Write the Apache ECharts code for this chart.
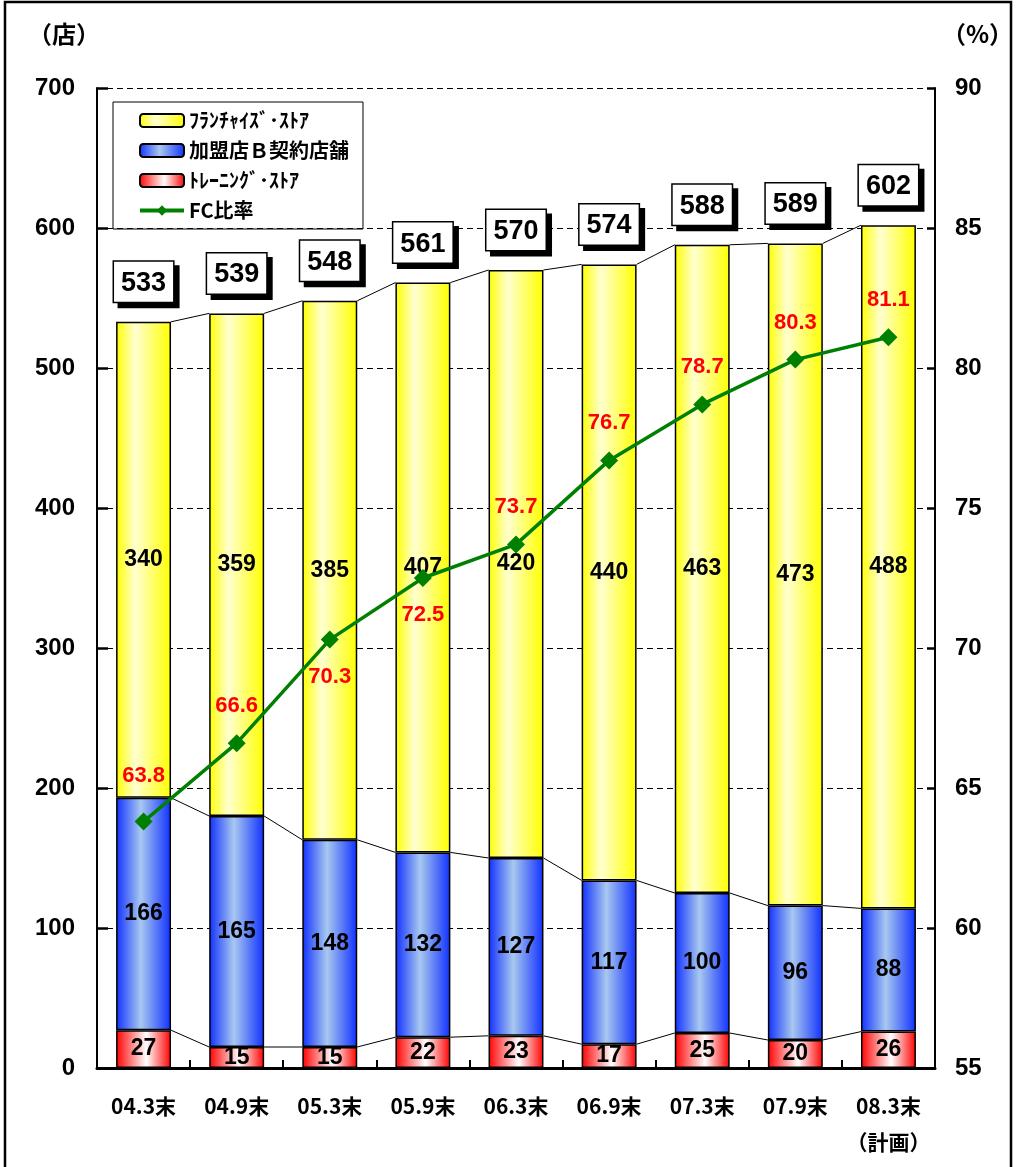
<!DOCTYPE html>
<html><head><meta charset="utf-8">
<script src="https://cdn.jsdelivr.net/npm/echarts@6/dist/echarts.min.js"></script>
<style>html,body{margin:0;padding:0;background:#fff}#c{width:1019px;height:1167px}</style>
</head><body><div id="c"></div>
<script>
const categories = ['04.3末','04.9末','05.3末','05.9末','06.3末','06.9末','07.3末','07.9末','08.3末\n（計画）'];
const franchise = [340,359,385,407,420,440,463,473,488];
const contract = [166,165,148,132,127,117,100,96,88];
const training = [27,15,15,22,23,17,25,20,26];
const totals = [533,539,548,561,570,574,588,589,602];
const fcRatio = [63.8,66.6,70.3,72.5,73.7,76.7,78.7,80.3,81.1];
const fcLabelPos = ['top','top','bottom','bottom','top','top','top','top','top'];
const leftTicks = [0,100,200,300,400,500,600,700];
const rightTicks = [55,60,65,70,75,80,85,90];

const FONT = '"Liberation Sans", Arial, "Noto Sans CJK JP", sans-serif';
const JFONT = '"Noto Sans CJK JP", "Liberation Sans", sans-serif';
const BW = 0.59;

function grad(c1, c2, mid) {
  return new echarts.graphic.LinearGradient(0,0,1,0,[
    {offset:0,color:c1},{offset:mid,color:c2},{offset:1,color:c1}]);
}

const lvlRed = training.slice();
const lvlBlue = training.map((t,i)=>t+contract[i]);
const lvlTot = totals.slice();
const connData = [];
for (let i=0;i<categories.length-1;i++) {
  connData.push([i, lvlRed[i], lvlBlue[i], lvlTot[i], lvlRed[i+1], lvlBlue[i+1], lvlTot[i+1]]);
}

const chart = echarts.init(document.getElementById('c'), null, {renderer:'canvas'});
const segLabel = {show:true, position:'inside', color:'#000', fontWeight:'bold', fontSize:23, fontFamily:FONT};

chart.setOption({
  animation:false,
  backgroundColor:'#fff',
  textStyle:{fontFamily:FONT},
  grid:{left:97, right:84, top:88, bottom:99, containLabel:false},
  legend:{
    left:113, top:102, orient:'vertical',
    data:['ﾌﾗﾝﾁｬｲｽﾞ･ｽﾄｱ','加盟店Ｂ契約店舗','ﾄﾚｰﾆﾝｸﾞ･ｽﾄｱ',
      {name:'FC比率', itemStyle:{color:'#008000'}, lineStyle:{width:4}}],
    borderColor:'#000', borderWidth:1, padding:[8,14,8,25],
    itemWidth:44, itemHeight:13, itemGap:9,
    textStyle:{fontFamily:JFONT, fontWeight:'bold', fontSize:20, color:'#000', lineHeight:21},
    selectedMode:false
  },
  xAxis:{
    type:'category', data:categories, boundaryGap:true,
    axisLine:{lineStyle:{color:'#000', width:3}},
    axisTick:{show:true, inside:true, length:8, lineStyle:{color:'#000', width:2}},
    axisLabel:{color:'#000', fontWeight:'bold', fontSize:21, margin:20, lineHeight:36, fontFamily:JFONT, interval:0}
  },
  yAxis:[
    {type:'value', min:0, max:700, interval:100,
     axisLine:{show:true, lineStyle:{color:'#000', width:2}},
     axisTick:{show:true, inside:true, length:11, lineStyle:{color:'#000', width:2.5}},
     axisLabel:{color:'#000', fontWeight:'bold', fontSize:24, margin:22, fontFamily:FONT},
     splitLine:{show:true, lineStyle:{color:'#000', width:1, type:[6,4]}}},
    {type:'value', min:55, max:90, interval:5,
     axisLine:{show:true, lineStyle:{color:'#000', width:2}},
     axisTick:{show:true, inside:true, length:8, lineStyle:{color:'#000', width:2.5}},
     axisLabel:{color:'#000', fontWeight:'bold', fontSize:24, margin:20, fontFamily:FONT},
     splitLine:{show:false}}
  ],
  graphic:[
    {type:'rect', shape:{x:5, y:2, width:1006, height:1200}, style:{fill:'none', stroke:'#000', lineWidth:2.5}, silent:true},
    {type:'text', left:28, top:22, style:{text:'（店）', font:'bold 24px '+JFONT, fill:'#000'}},
    {type:'text', left:942, top:22, style:{text:'（%）', font:'bold 24px '+JFONT, fill:'#000'}}
  ],
  series:[
    {name:'ﾄﾚｰﾆﾝｸﾞ･ｽﾄｱ', type:'bar', stack:'s', data:training, barWidth:(BW*100)+'%',
     itemStyle:{color:grad('#FF0000','#FFFFFF',0.55), borderColor:'#000', borderWidth:1.5},
     label:segLabel, z:2},
    {name:'加盟店Ｂ契約店舗', type:'bar', stack:'s', data:contract, barWidth:(BW*100)+'%',
     itemStyle:{color:grad('#1030FF','#A8C8F0',0.45), borderColor:'#000', borderWidth:1.5},
     label:segLabel, z:2},
    {name:'ﾌﾗﾝﾁｬｲｽﾞ･ｽﾄｱ', type:'bar', stack:'s', data:franchise, barWidth:(BW*100)+'%',
     itemStyle:{color:grad('#FFFF00','#FFFFD0',0.35), borderColor:'#000', borderWidth:1.5},
     label:segLabel, z:2},
    {name:'conn', type:'custom', data:connData, z:1, silent:true,
     encode:{x:0, y:[1,2,3]},
     renderItem:function(params, api){
       const i = api.value(0);
       const hw = api.size([1,0])[0]*BW/2;
       const kids = [];
       for (let k=1;k<=3;k++){
         const p1 = api.coord([i, api.value(k)]);
         const p2 = api.coord([i+1, api.value(k+3)]);
         kids.push({type:'line', shape:{x1:p1[0]+hw, y1:p1[1], x2:p2[0]-hw, y2:p2[1]}, style:{stroke:'#000', lineWidth:1}});
       }
       return {type:'group', children:kids};
     }},
    {name:'total', type:'scatter', data:totals, symbolSize:0, z:5, silent:true,
     itemStyle:{opacity:1},
     label:{show:true, position:'top', distance:20, color:'#000', fontWeight:'bold', fontSize:27, fontFamily:FONT,
       backgroundColor:'#fff', borderColor:'#000', borderWidth:1.5, padding:[8,7,5,7],
       shadowColor:'#000', shadowOffsetX:5, shadowOffsetY:5, shadowBlur:0,
       textShadowColor:'transparent', textShadowBlur:0}},
    {name:'FC比率', type:'line', yAxisIndex:1, z:10,
     data:fcRatio.map((v,i)=>({value:v, label:{position:fcLabelPos[i], distance:(i===0?26:17)}})),
     symbol:'diamond', symbolSize:18,
     lineStyle:{color:'#008000', width:3.5}, itemStyle:{color:'#008000'},
     label:{show:true, color:'#FF0000', fontWeight:'bold', fontSize:22, fontFamily:FONT,
       formatter:p=>p.value.toFixed(1)}}
  ]
});
</script></body></html>
